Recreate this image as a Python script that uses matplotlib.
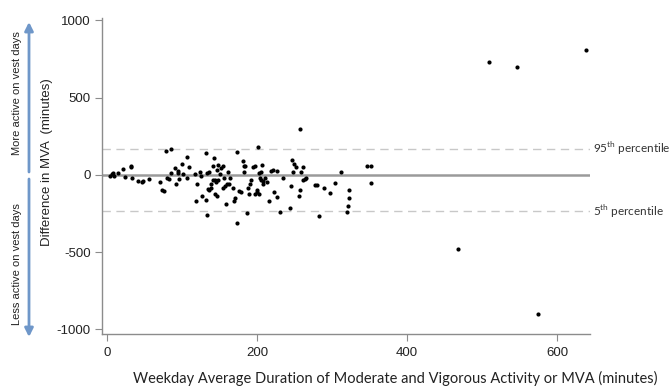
import matplotlib
matplotlib.use("Agg")
import matplotlib.pyplot as plt
from matplotlib.patches import FancyArrowPatch
import numpy as np

# weekday average MVA (minutes) vs difference (vest - non-vest days)
mva = [3.6, 5.8, 7.2, 8.9, 14.7, 21.4, 23.2, 31.2, 31.2, 33.4, 40.5, 45.8, 48.0, 55.2,
       70.3, 73.4, 75.6, 78.3, 84.5, 80.0, 82.7, 85.4, 90.3, 91.2, 93.8, 94.7, 96.0,
       99.2, 101.4, 105.8, 106.7, 109.4, 116.5, 118.3, 119.2, 123.6, 125.4, 126.7,
       131.2, 131.6, 132.5, 133.4, 134.7, 136.0, 136.0, 137.8, 138.7, 140.5, 141.4,
       142.3, 143.2, 144.1, 144.9, 145.8, 146.7, 147.2, 147.6, 150.3, 152.0, 154.7,
       154.7, 155.6, 156.5, 157.8, 159.2, 160.9, 161.8, 163.6, 168.0, 168.9, 170.7,
       172.5, 173.4, 176.0, 177.8, 180.5, 182.3, 182.3, 184.0, 185.8, 187.6, 188.5,
       190.3, 192.0, 194.7, 196.5, 197.4, 199.2, 200.0, 200.9, 201.8, 202.7, 203.6,
       204.5, 205.4, 206.3, 207.2, 208.0, 210.7, 212.5, 215.2, 218.7, 220.5, 223.1,
       225.8, 226.7, 230.3, 234.7, 243.6, 245.4, 246.3, 247.2, 248.9, 251.6, 255.2,
       256.9, 258.7, 260.5, 261.4, 264.0, 264.9, 257.8, 277.4, 279.2, 282.7, 289.0,
       297.8, 304.0, 311.2, 322.7, 322.7, 321.8, 319.2, 346.7, 352.5, 351.2,
       509.3, 546.3, 638.3, 467.6, 574.7]
diff = [-5, 3, 12, -5, 12, 36, -14, 59, 51, -18, -40, -49, -42, -27,
        -46, -96, -105, 154, 167, -18, -27, 12, 46, -57, 25, 12, -27,
        72, 3, 113, -23, 51, 3, -169, -57, 18, -10, -135,
        141, -165, -262, 12, -90, -96, 18, -57, -83, 59, -36,
        111, -36, -126, -44, -139, 33, 66, -36, 3, 42, 55,
        -83, -18, -74, -187, -57, 20, -57, -18, -83, -169, -148,
        -312, 146, -105, -113, 90, 59, 20, 59, -247, -87, -126,
        -57, -36, 51, 59, -126, -113, -100, 180, 12, -126, -23,
        -36, 16, 64, -57, -40, -18, -44, -169, 25, 29, -109,
        -143, 25, -241, -23, -212, -74, 94, 16, 72, 51, -139,
        -100, 20, 51, -31, -27, -18, 297, -66, -66, -264, -83,
        -117, -53, 16, -100, -152, -199, -238, 55, 59, -53,
        728, 696, 806, -480, -898]

p95 = 168
p5 = -236

plt.rcParams['font.family'] = 'Liberation Sans'
plt.rcParams['axes.unicode_minus'] = False
plt.rcParams['mathtext.fontset'] = 'custom'
plt.rcParams['mathtext.rm'] = 'Lato'

fig = plt.figure(figsize=(6.7, 3.87), dpi=100)
ax = fig.add_axes([102/670, 1-334/387, (590-102)/670, (334-18)/387])

gray = '#8c8c8c'
ax.axhline(0, color='#9a9a9a', lw=1.8, zorder=1)
ax.axhline(p95, color='#c8c8c8', lw=1.0, ls=(0, (6, 4)), zorder=1)
ax.axhline(p5, color='#c8c8c8', lw=1.0, ls=(0, (6, 4)), zorder=1)
ax.scatter(mva, diff, s=9, color='black', zorder=3, linewidths=0)

ax.set_xlim(-7, 644)
ax.set_ylim(-1030, 1015)
ax.set_xticks([0, 200, 400, 600])
ax.set_yticks([-1000, -500, 0, 500, 1000])
for s in ['top', 'right']:
    ax.spines[s].set_visible(False)
for s in ['left', 'bottom']:
    ax.spines[s].set_color(gray)
    ax.spines[s].set_linewidth(1.0)
ax.tick_params(axis='both', colors=gray, length=5, width=0.8, labelsize=9.5,
               labelcolor='#222222')
ax.tick_params(axis='y', pad=3)
ax.tick_params(axis='x', pad=4)

fig.text(47/670, 1-162/387, 'Difference in MVA  (minutes)', rotation=90,
         ha='center', va='center', fontsize=9.5, color='#222222')
fig.text(395/670, 1-378/387,
         'Weekday Average Duration of Moderate and Vigorous Activity or MVA (minutes)',
         ha='center', va='center', fontsize=10.5, family='Lato', color='#222222')

ax.text(1.007, p95, '95$^{\\rm th}$ percentile', transform=ax.get_yaxis_transform(),
        ha='left', va='center', fontsize=8.5, family='Lato', color='#333333')
ax.text(1.007, p5, '5$^{\\rm th}$ percentile', transform=ax.get_yaxis_transform(),
        ha='left', va='center', fontsize=8.5, family='Lato', color='#333333')

# side arrows
blue = '#6f97c9'
for y0, y1 in [(172, 22), (179, 337)]:
    arr = FancyArrowPatch((29/670, 1-y0/387), (29/670, 1-y1/387),
                          transform=fig.transFigure, arrowstyle='-|>,head_length=5,head_width=2.5',
                          color=blue, lw=2.0, shrinkA=0, shrinkB=0)
    fig.add_artist(arr)
fig.text(17/670, 1-93/387, 'More active on vest days', rotation=90, ha='center', va='center',
         fontsize=8, color='#222222')
fig.text(17/670, 1-264/387, 'Less active on vest days', rotation=90, ha='center', va='center',
         fontsize=8, color='#222222')

fig.savefig('out.png', dpi=100)
